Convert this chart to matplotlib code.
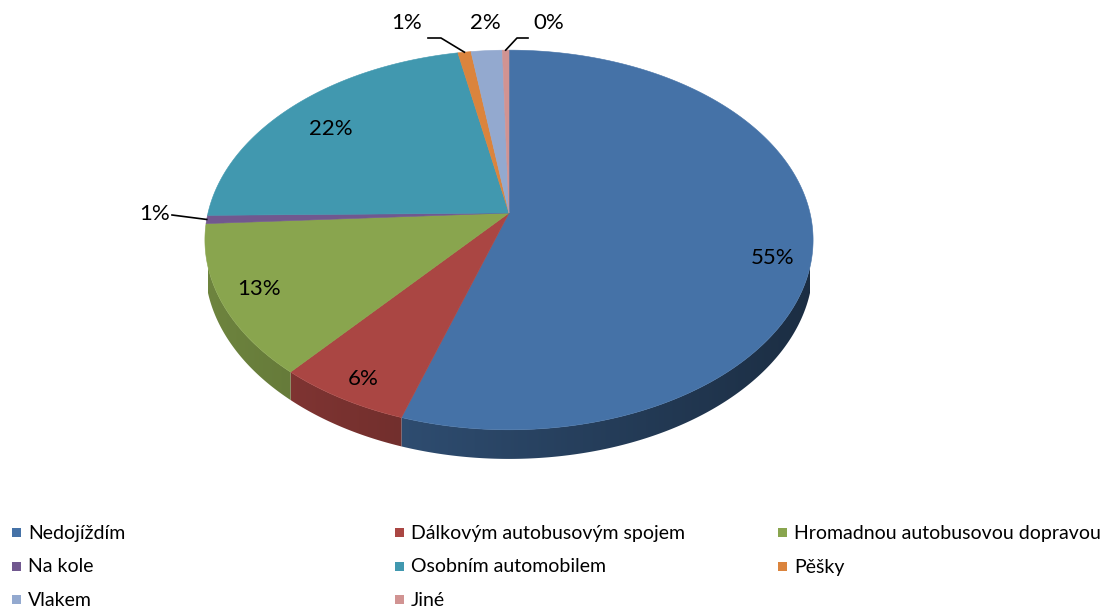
import numpy as np
import matplotlib
matplotlib.use("Agg")
import matplotlib.pyplot as plt
from matplotlib.patches import Polygon, Rectangle
from matplotlib import colors as mcolors
from matplotlib import font_manager

# --- data ---------------------------------------------------------------
categories = ["Nedojíždím", "Dálkovým autobusovým spojem", "Hromadnou autobusovou dopravou",
              "Na kole", "Osobním automobilem", "Pěšky", "Vlakem", "Jiné"]
shares = [55.0, 6.2, 12.9, 0.7, 22.1, 0.8, 1.9, 0.4]
slice_colors = ["#4572A7", "#AA4643", "#89A54E", "#71588F",
                "#4198AF", "#DB843D", "#93A9CF", "#D19392"]

# --- fonts ----------------------------------------------------------------
available = {f.name for f in font_manager.fontManager.ttflist}
label_font = "Lato" if "Lato" in available else "DejaVu Sans"

# --- figure in pixel space ------------------------------------------------
W, H = 1112, 608
fig = plt.figure(figsize=(W / 100, H / 100), dpi=100)
ax = fig.add_axes([0, 0, 1, 1])
ax.set_xlim(0, W)
ax.set_ylim(H, 0)
ax.axis("off")

# perspective disc geometry
CX, CY = 509.0, 213.0      # projected centre of the disc
A, B = 186.0, 301.0        # vertical / horizontal scale
K = 0.142                  # perspective strength
DEPTH = 25.0               # thickness of the disc


def proj(r, theta_deg, drop=0.0):
    t = np.radians(theta_deg)
    u = r * np.sin(t)
    v = r * np.cos(t)
    w = 1 + K * v
    return CX + B * u / w, CY - A * v / w + drop / w


fractions = np.array(shares) / np.sum(shares)
edges = np.concatenate([[0], np.cumsum(fractions)]) * 360.0

# horizontal shading ramp for the side wall: lighter on the left, dark on the right
x_left, x_right = proj(1, 270)[0], proj(1, 90)[0]
ramp = np.linspace(0.80, 0.40, 400)[None, :]

for i, col in enumerate(slice_colors):
    a0, a1 = max(edges[i], 90.0), min(edges[i + 1], 270.0)
    if a1 <= a0:
        continue
    ts = np.linspace(a0, a1, max(4, int((a1 - a0) / 0.5)))
    top = [proj(1, t) for t in ts]
    bottom = [proj(1, t, DEPTH) for t in ts[::-1]]
    poly = Polygon(top + bottom, closed=True, facecolor="none", edgecolor="none")
    ax.add_patch(poly)
    base = np.array(mcolors.to_rgb(col))
    img = np.clip(ramp[..., None] * base[None, None, :], 0, 1)
    im = ax.imshow(img, extent=(x_left, x_right, 480, 150), aspect="auto",
                   interpolation="bilinear", zorder=1)
    im.set_clip_path(poly)

# top surface
for i, col in enumerate(slice_colors):
    ts = np.linspace(edges[i], edges[i + 1], max(3, int((edges[i + 1] - edges[i]) / 0.5)))
    pts = [proj(0, 0)] + [proj(1, t) for t in ts]
    ax.add_patch(Polygon(pts, closed=True, facecolor=col, edgecolor=col,
                         lw=0.4, zorder=2))

# percentage labels
mids = 0.5 * (edges[:-1] + edges[1:])
pct_text = [f"{round(s):.0f}%" for s in shares]
inside_shift = {0: (0, 19), 1: (-3, 8), 2: (-2, 0), 4: (10, 11)}
outside = {
    3: {"text": (170, 214), "ha": "right", "path": [(172, 215)]},
    5: {"text": (407, 23), "ha": "center", "path": [(441, 38), (428, 38)]},
    6: {"text": (485, 23), "ha": "center", "path": None},
    7: {"text": (549, 23), "ha": "center", "path": [(517, 38), (528, 38)]},
}
for i, s in enumerate(shares):
    if i in outside:
        o = outside[i]
        if o["path"]:
            start = proj(1, mids[i])
            xs = [start[0]] + [p[0] for p in o["path"]]
            ys = [start[1]] + [p[1] for p in o["path"]]
            ax.plot(xs, ys, color="black", lw=1.2, zorder=3)
        ax.text(o["text"][0], o["text"][1], pct_text[i], ha=o["ha"], va="center",
                fontsize=16, family=label_font, color="black", zorder=4)
    else:
        x, y = proj(0.87, mids[i])
        dx, dy = inside_shift.get(i, (0, 0))
        ax.text(x + dx, y + dy, pct_text[i], ha="center", va="center",
                fontsize=16, family=label_font, color="black", zorder=4)

# legend: three columns
col_x = [12, 395, 778]
row_y = [533, 567, 600]
for i, (name, col) in enumerate(zip(categories, slice_colors)):
    r, c = divmod(i, 3)
    x, y = col_x[c], row_y[r]
    ax.add_patch(Rectangle((x, y - 5), 9, 9, facecolor=col, edgecolor="none", zorder=3))
    ax.text(x + 16, y, name, ha="left", va="center", fontsize=14,
            family=label_font, color="black", zorder=4)

fig.savefig("out.png", dpi=100, facecolor="white")
